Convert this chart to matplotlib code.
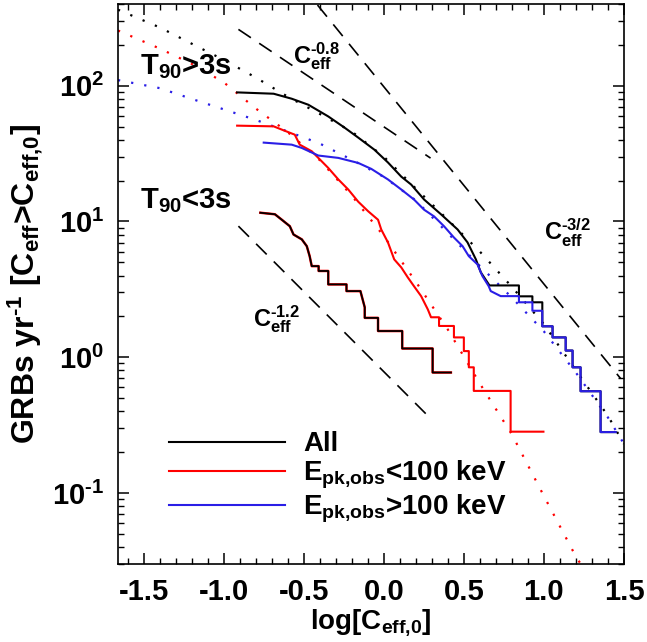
import matplotlib
matplotlib.use("Agg")
import math
import matplotlib.pyplot as plt
from matplotlib.ticker import MultipleLocator, FormatStrFormatter, LogLocator, FuncFormatter

plt.rcParams['font.family'] = 'Liberation Sans'
plt.rcParams['font.weight'] = 'bold'
plt.rcParams['mathtext.fontset'] = 'custom'
plt.rcParams['mathtext.rm'] = 'Liberation Sans:bold'
plt.rcParams['mathtext.it'] = 'Liberation Sans:bold'
plt.rcParams['mathtext.bf'] = 'Liberation Sans:bold'
plt.rcParams['mathtext.default'] = 'rm'
plt.rcParams['axes.unicode_minus'] = False

HY = '\u2010'  # plain hyphen for exponents, as in the original

# long bursts, all (black step curve)
all_x = [-0.916, -0.688, -0.575, -0.471, -0.347, -0.245, -0.160, -0.059, 0.026, 0.109,
         0.171, 0.252, 0.357, 0.461, 0.523, 0.575, 0.606, 0.660, 0.844, 0.844, 0.928,
         0.928, 0.990, 0.990, 1.054, 1.054, 1.136, 1.136, 1.179, 1.179, 1.229, 1.229,
         1.354, 1.354, 1.448]
all_y = [89.3, 87.3, 80.2, 72.4, 59.4, 49.1, 41.5, 33.8, 27.2, 21.4,
         18.7, 14.5, 11.3, 8.73, 7.01, 5.26, 4.22, 3.38, 3.38, 2.81, 2.81,
         2.54, 2.54, 1.69, 1.69, 1.40, 1.40, 1.12, 1.12, 0.843, 0.843, 0.562,
         0.562, 0.281, 0.281]

# long bursts, Epk < 100 keV (red step curve)
lo_x = [-0.916, -0.688, -0.637, -0.556, -0.525, -0.450, -0.409, -0.347, -0.284, -0.222,
        -0.160, -0.098, -0.036, -0.016, 0.026, 0.065, 0.109, 0.150, 0.189, 0.233,
        0.275, 0.295, 0.345, 0.345, 0.438, 0.438, 0.500, 0.500, 0.531, 0.531,
        0.562, 0.562, 0.792, 0.792, 0.997]
lo_y = [50.8, 50.2, 47.5, 43.6, 36.8, 32.9, 29.4, 24.8, 20.4, 17.2,
        14.0, 11.9, 10.3, 8.73, 7.01, 5.26, 4.59, 3.87, 3.33, 2.82,
        2.25, 1.97, 1.97, 1.70, 1.70, 1.40, 1.40, 1.11, 1.11, 0.843,
        0.843, 0.565, 0.565, 0.283, 0.283]

# long bursts, Epk > 100 keV (blue step curve)
hi_x = [-0.750, -0.575, -0.512, -0.409, -0.284, -0.160, -0.078, 0.026, 0.109, 0.189,
        0.252, 0.314, 0.376, 0.438, 0.492, 0.531, 0.585, 0.616, 0.655, 0.668,
        0.730, 0.844, 0.844, 0.928, 0.928, 0.990, 0.990, 1.054, 1.054, 1.136,
        1.136, 1.179, 1.179, 1.229, 1.229, 1.354, 1.354, 1.448]
hi_y = [38.1, 36.8, 34.8, 30.6, 29.4, 27.0, 24.4, 20.4, 17.2, 14.5,
        12.2, 10.9, 9.23, 7.62, 6.58, 5.55, 4.83, 3.96, 3.34, 3.07,
        2.82, 2.82, 2.54, 2.54, 2.20, 2.20, 1.69, 1.69, 1.40, 1.40,
        1.12, 1.12, 0.843, 0.843, 0.562, 0.562, 0.281, 0.281]

# short bursts (black step curve)
short_x = [-0.771, -0.680, -0.637, -0.587, -0.564, -0.512, -0.481, -0.463, -0.450, -0.407,
           -0.407, -0.347, -0.347, -0.233, -0.233, -0.146, -0.119, -0.119, -0.036, -0.036,
           0.115, 0.115, 0.305, 0.305, 0.419]
short_y = [11.6, 11.3, 10.3, 9.23, 8.02, 7.38, 6.58, 5.55, 4.69, 4.69,
           4.32, 4.32, 3.44, 3.44, 3.07, 3.07, 2.33, 1.95, 1.95, 1.56,
           1.56, 1.16, 1.16, 0.772, 0.772]

# model curves (dotted)
mod_x = [-1.66, -1.4, -1.2, -1.0, -0.8, -0.6, -0.4, -0.2, 0.0, 0.2, 0.4, 0.6, 0.8, 1.0, 1.2, 1.4, 1.5]
mod_all = [363, 269, 204, 155, 115, 83, 62, 46, 30, 17.5, 10.3, 6.0, 3.3, 1.75, 0.80, 0.37, 0.23]
mod_hi = [110, 96, 80, 67, 56, 46, 37.5, 28.5, 21.3, 14.3, 8.2, 4.7, 2.75, 1.55, 0.77, 0.36, 0.23]
mod_lo_x = [-1.66, -1.4, -1.2, -1.0, -0.8, -0.6, -0.4, -0.2, 0.0, 0.2, 0.4, 0.6, 0.8, 1.0, 1.2, 1.23]
mod_lo = [255, 188, 145, 106, 68, 45.5, 28.3, 15.5, 7.8, 3.6, 1.6, 0.64, 0.27, 0.095, 0.034, 0.03]

# reference power laws (dashed), end points
pl08_x = [-0.908, 0.292]
pl08_y = [260, 29.3]
pl15_x = [-0.414, 1.479]
pl15_y = [393, 0.697]
pl12_x = [-0.908, 0.292]
pl12_y = [9.24, 0.354]

red = '#ff0000'
blue = '#2a1ee6'

fig = plt.figure(figsize=(6.47, 6.42), dpi=100)
ax = fig.add_axes([0.1824, 0.1215, 0.782, 0.8723])

dot = (0, (1, 5))
ax.plot(mod_x, mod_all, color='black', lw=1.6, ls=dot)
ax.plot(mod_lo_x, mod_lo, color=red, lw=1.6, ls=dot)
ax.plot(mod_x, mod_hi, color=blue, lw=1.6, ls=dot)

dash = (0, (9, 6))
ax.plot(pl08_x, pl08_y, color='black', lw=1.2, ls=dash)
ax.plot(pl15_x, pl15_y, color='black', lw=1.2, ls=dash)
ax.plot(pl12_x, pl12_y, color='black', lw=1.2, ls=dash)

ax.plot(short_x, short_y, color=red, lw=1.8)
ax.plot(short_x, short_y, color='black', lw=1.3)
l_all, = ax.plot(all_x, all_y, color='black', lw=1.5, label='All')
l_lo, = ax.plot(lo_x, lo_y, color=red, lw=1.5, label='E$_{pk{,}obs}$<100 keV')
l_hi, = ax.plot(hi_x, hi_y, color=blue, lw=1.5, label='E$_{pk{,}obs}$>100 keV')

ax.text(-1.52, 122, 'T$_{90}$>3s', fontsize=21, fontweight='bold', ha='left', va='baseline')
ax.text(-1.52, 12.5, 'T$_{90}$<3s', fontsize=21, fontweight='bold', ha='left', va='baseline')
ax.text(-0.564, 146, 'C$_{eff}^{%s0.8}$' % HY, fontsize=17, fontweight='bold', ha='left', va='baseline')
ax.text(0.998, 7.23, 'C$_{eff}^{%s3/2}$' % HY, fontsize=17, fontweight='bold', ha='left', va='baseline')
ax.text(-0.815, 1.69, 'C$_{eff}^{%s1.2}$' % HY, fontsize=17, fontweight='bold', ha='left', va='baseline')

ax.set_yscale('log')
ax.set_xlim(-1.66, 1.5)
ax.set_ylim(0.03, 400)


def pow_label(v, pos):
    return '10$^{%s}$' % str(int(round(math.log10(v)))).replace('-', HY)


ax.xaxis.set_major_locator(MultipleLocator(0.5))
ax.xaxis.set_minor_locator(MultipleLocator(0.1))
ax.xaxis.set_major_formatter(FormatStrFormatter('%.1f'))
ax.yaxis.set_major_locator(LogLocator(base=10))
ax.yaxis.set_minor_locator(LogLocator(base=10, subs=range(2, 10)))
ax.yaxis.set_major_formatter(FuncFormatter(pow_label))

ax.tick_params(which='both', direction='in', top=True, right=True, labelsize=21)
ax.tick_params(axis='x', pad=10)
ax.tick_params(axis='y', pad=10)
ax.tick_params(which='major', length=8, width=1.1)
ax.tick_params(which='minor', length=4, width=1.0)
for s in ax.spines.values():
    s.set_linewidth(1.2)

ax.set_xlabel('log[C$_{eff{,}0}$]', fontsize=20, fontweight='bold', labelpad=1)
ax.set_ylabel('GRBs yr$^{%s1}$ [C$_{eff}$>C$_{eff{,}0}$]' % HY, fontsize=23, fontweight='bold', labelpad=5)

ax.legend(handles=[l_all, l_lo, l_hi], loc='lower left', bbox_to_anchor=(0.1, 0.07),
          frameon=False, fontsize=20, handlelength=4.2, handletextpad=0.65,
          labelspacing=0.05, borderpad=0, borderaxespad=0)

fig.savefig('out.png', dpi=100)
